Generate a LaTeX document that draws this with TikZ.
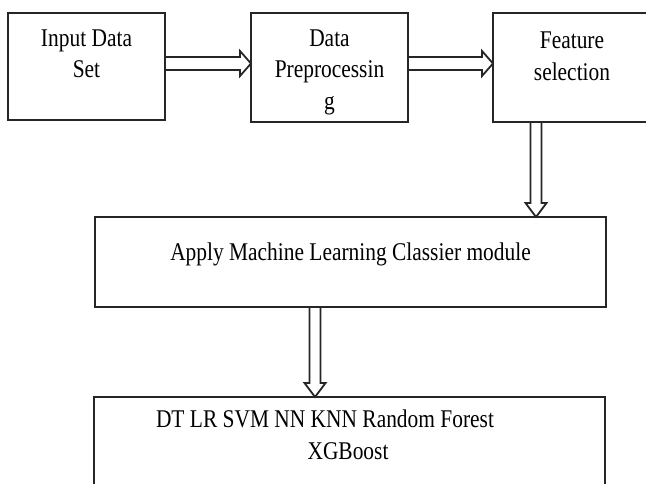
\documentclass[tikz,border=0pt]{standalone}
\usepackage{fontspec}
\newfontfamily\flowfont[FakeStretch=0.84]{Liberation Serif}
\usetikzlibrary{calc}

% hollow block arrows between the stages
\newcommand{\pipeRight}[2]{%
  \draw[pipe] ($(#1)+(0,-6.5)$) -- ($(#2)+(-11,-6.5)$) -- ($(#2)+(-11,-12.5)$)
    -- (#2) -- ($(#2)+(-11,12.5)$) -- ($(#2)+(-11,6.5)$) -- ($(#1)+(0,6.5)$);}
\newcommand{\pipeDown}[2]{%
  \draw[pipe] ($(#1)+(-5.5,0)$) -- ($(#2)+(-5.5,-14)$) -- ($(#2)+(-10.5,-14)$)
    -- (#2) -- ($(#2)+(10.5,-14)$) -- ($(#2)+(5.5,-14)$) -- ($(#1)+(5.5,0)$);}

\begin{document}
\begin{tikzpicture}[x=1pt, y=-1pt,
	stage/.style={rectangle,draw=black!85,line width=2.2pt,inner sep=0pt,outer sep=0pt},
	txt/.style={font=\flowfont\fontsize{25.5}{31.5}\selectfont,align=center,inner sep=0pt},
	pipe/.style={draw=black!85,line width=1.8pt,line join=miter}]
	
	\useasboundingbox (0,0) rectangle (646,484);
	\clip (0,0) rectangle (646,484);
	
	\node[stage, minimum width=157pt, minimum height=107pt] (inp) at (86.5,66.5) {};
	\node[stage, minimum width=157pt, minimum height=109pt] (pre) at (329.5,67.5) {};
	\node[stage, minimum width=158pt, minimum height=109pt] (feat) at (572,67.5) {};
	\node[stage, minimum width=511pt, minimum height=90pt] (apply) at (350.5,262) {};
	\node[stage, minimum width=511pt, minimum height=90pt] (algo) at (349.5,442) {};
	
	\node[txt] (inptext) at (inp |- 0,54) {Input Data\\Set};
	\node[txt] (pretext) at (pre |- 0,72) {Data\\Preprocessin\\g};
	\node[txt] (feattext) at (feat |- 0,56.5) {Feature\\selection};
	\node[txt] (applytext) at (apply |- 0,254) {Apply Machine Learning Classier module};
	\node[txt] (algotext) at (348,435) {DT LR SVM NN KNN Random Forest\hspace*{46pt}\\XGBoost};
	
	\coordinate (p1s) at ($(inp.east)+(0,-3)$);
	\coordinate (p1e) at (p1s -| pre.west);
	\coordinate (p2s) at ($(pre.east)+(0,-4)$);
	\coordinate (p2e) at (p2s -| feat.west);
	\coordinate (p3s) at ($(feat.south west)+(43,0)$);
	\coordinate (p3e) at (p3s |- apply.north);
	\coordinate (p4s) at ($(apply.south west)+(220,0)$);
	\coordinate (p4e) at (p4s |- algo.north);
	
	\pipeRight{p1s}{p1e}
	\pipeRight{p2s}{p2e}
	\pipeDown{p3s}{p3e}
	\pipeDown{p4s}{p4e}
\end{tikzpicture}
\end{document}
